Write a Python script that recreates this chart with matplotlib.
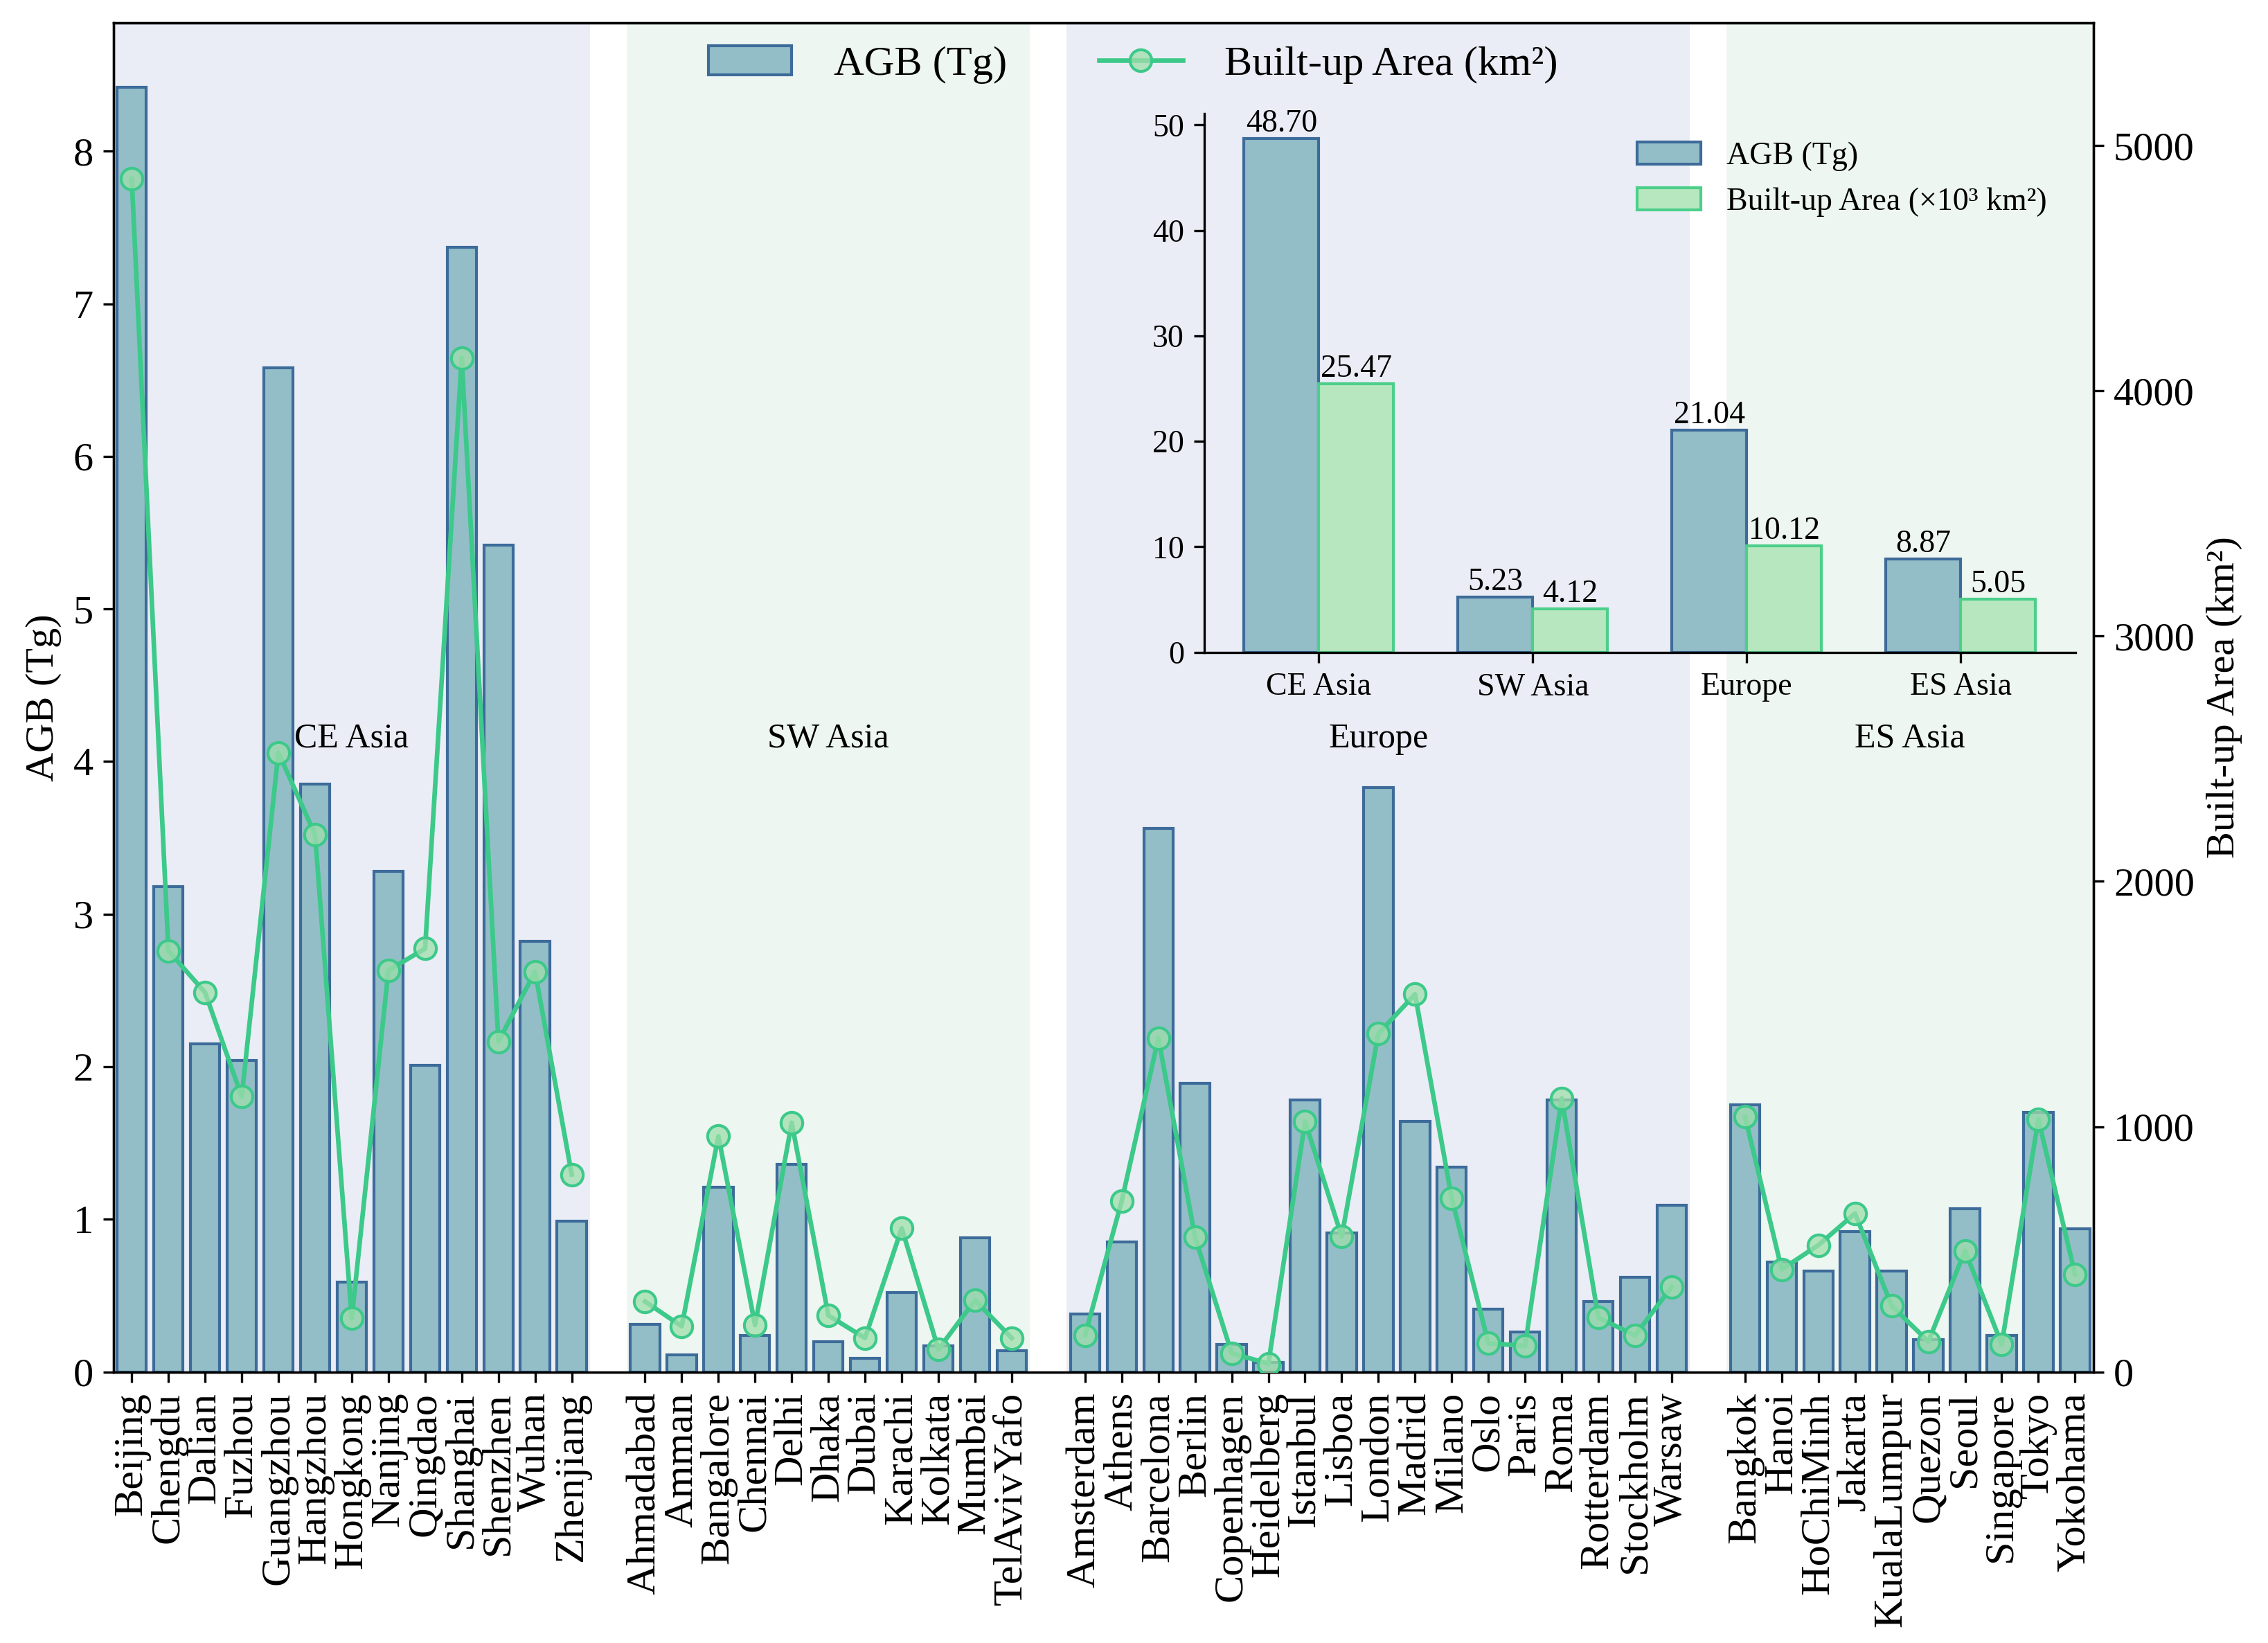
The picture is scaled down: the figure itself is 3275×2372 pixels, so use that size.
import matplotlib.pyplot as plt
from matplotlib.patches import Patch
from matplotlib.lines import Line2D

plt.rcParams['font.family'] = ['Liberation Serif', 'DejaVu Serif']

# city data per region
ce_cities = ['Beijing', 'Chengdu', 'Dalian', 'Fuzhou', 'Guangzhou', 'Hangzhou', 'Hongkong',
             'Nanjing', 'Qingdao', 'Shanghai', 'Shenzhen', 'Wuhan', 'Zhenjiang']
ce_agb = [8.42, 3.18, 2.15, 2.04, 6.58, 3.85, 0.59, 3.28, 2.01, 7.37, 5.42, 2.82, 0.99]
ce_area = [4865, 1717, 1547, 1122, 2525, 2191, 218, 1637, 1726, 4135, 1347, 1632, 805]

sw_cities = ['Ahmadabad', 'Amman', 'Bangalore', 'Chennai', 'Delhi', 'Dhaka', 'Dubai',
             'Karachi', 'Kolkata', 'Mumbai', 'TelAvivYafo']
sw_agb = [0.31, 0.11, 1.21, 0.24, 1.36, 0.20, 0.09, 0.52, 0.17, 0.88, 0.14]
sw_area = [287, 186, 961, 191, 1016, 230, 138, 586, 92, 292, 138]

eu_cities = ['Amsterdam', 'Athens', 'Barcelona', 'Berlin', 'Copenhagen', 'Heidelberg',
             'Istanbul', 'Lisboa', 'London', 'Madrid', 'Milano', 'Oslo', 'Paris', 'Roma',
             'Rotterdam', 'Stockholm', 'Warsaw']
eu_agb = [0.38, 0.85, 3.56, 1.89, 0.18, 0.06, 1.78, 0.91, 3.83, 1.64, 1.34, 0.41, 0.26,
          1.78, 0.46, 0.62, 1.09]
eu_area = [149, 697, 1361, 549, 76, 34, 1021, 552, 1379, 1540, 708, 117, 106, 1115, 221,
           149, 347]

es_cities = ['Bangkok', 'Hanoi', 'HoChiMinh', 'Jakarta', 'KualaLumpur', 'Quezon', 'Seoul',
             'Singapore', 'Tokyo', 'Yokohama']
es_agb = [1.75, 0.72, 0.66, 0.92, 0.66, 0.21, 1.07, 0.24, 1.70, 0.94]
es_area = [1040, 418, 517, 646, 269, 124, 494, 113, 1030, 398]

regions = ['CE Asia', 'SW Asia', 'Europe', 'ES Asia']
region_agb = [48.70, 5.23, 21.04, 8.87]
region_area = [25.47, 4.12, 10.12, 5.05]

bar_face = '#93bec8'
bar_edge = '#3d6b9a'
line_col = '#3cc98a'
mk_face = (0.62, 0.87, 0.67, 0.75)
shade = ['#eaedf5', '#eef6f1', '#eaedf5', '#eef6f1']

groups = [(ce_cities, ce_agb, ce_area), (sw_cities, sw_agb, sw_area),
          (eu_cities, eu_agb, eu_area), (es_cities, es_agb, es_area)]

fig = plt.figure(figsize=(3275 / 300, 2372 / 300), dpi=300)
ax = fig.add_axes([0.05, 0.165, 0.873, 0.821])
ax2 = ax.twinx()

ticks = []
labels = []
start = 0
for gi, (names, agb, area) in enumerate(groups):
    xs = list(range(start, start + len(names)))
    ax.axvspan(xs[0] - 0.5, xs[-1] + 0.5, color=shade[gi], zorder=0, lw=0)
    ax.bar(xs, agb, width=0.8, color=bar_face, edgecolor=bar_edge, linewidth=1.0, zorder=2)
    ax2.plot(xs, area, color=line_col, lw=1.6, marker='o', ms=7.5,
             mfc=mk_face, mec=line_col, mew=1.0, zorder=3)
    ax.text((xs[0] + xs[-1]) / 2, 4.15, regions[gi], ha='center', va='center',
            fontsize=12, zorder=4)
    ticks += xs
    labels += names
    start = xs[-1] + 2

ax.set_xlim(-0.5, start - 1.5)
ax.set_ylim(0, 8.84)
ax2.set_ylim(0, 5500)
ax.set_xticks(ticks)
ax.set_xticklabels(labels, rotation=90, fontsize=14.5)
ax.set_yticks(range(0, 9))
ax.tick_params(axis='y', labelsize=14)
ax2.set_yticks(range(0, 5001, 1000))
ax2.tick_params(axis='y', labelsize=14)
ax.set_ylabel('AGB (Tg)', fontsize=14)
ax2.set_ylabel('Built-up Area (km²)', fontsize=14)
ax.set_zorder(ax2.get_zorder() - 1)
ax2.patch.set_visible(True)
ax2.patch.set_alpha(0)

handles = [Patch(facecolor=bar_face, edgecolor=bar_edge, label='AGB (Tg)'),
           Line2D([0], [0], color=line_col, lw=1.6, marker='o', ms=7.5,
                  mfc=mk_face, mec=line_col, label='Built-up Area (km²)')]
ax2.legend(handles=handles, loc='center', bbox_to_anchor=(0.515, 0.969), ncol=2,
           frameon=False, fontsize=14.5, handlelength=2.0, handletextpad=1.0,
           columnspacing=2.2)

# inset: regional totals
ins = fig.add_axes([0.531, 0.603, 0.384, 0.328])
ins.patch.set_alpha(0)
xi = range(len(regions))
b1 = ins.bar([x - 0.175 for x in xi], region_agb, width=0.35, color=bar_face,
             edgecolor=bar_edge, linewidth=1.0, label='AGB (Tg)')
b2 = ins.bar([x + 0.175 for x in xi], region_area, width=0.35, color='#b6e7bf',
             edgecolor='#4ccf8a', linewidth=1.0, label='Built-up Area (×10³ km²)')
ins.bar_label(b1, fmt='%.2f', fontsize=11, padding=0)
ins.bar_label(b2, fmt='%.2f', fontsize=11, padding=0)
ins.set_xticks(list(xi))
ins.set_xticklabels(regions, fontsize=11)
ins.set_yticks(range(0, 51, 10))
ins.tick_params(axis='y', labelsize=11)
ins.set_ylim(0, 51.1)
ins.spines['top'].set_visible(False)
ins.spines['right'].set_visible(False)
ins.legend(loc='upper right', frameon=False, fontsize=11, bbox_to_anchor=(1.0, 1.0))

fig.savefig('out.png', dpi=300)
